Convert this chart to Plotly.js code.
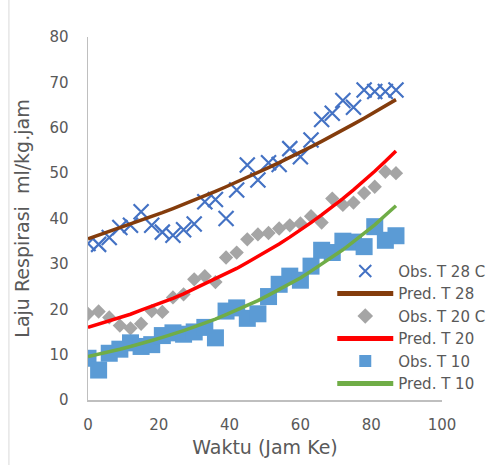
<!DOCTYPE html>
<html>
<head>
<meta charset="utf-8">
<script src="https://cdn.plot.ly/plotly-3.0.1.min.js"></script>
<style>
  html, body { margin: 0; padding: 0; background: #ffffff; }
  #chart { width: 491px; height: 465px; }
</style>
</head>
<body>
<div id="chart"></div>
<script>
// Time (hours)
const waktu = [0, 3, 6, 9, 12, 15, 18, 21, 24, 27, 30, 33, 36, 39, 42, 45, 48, 51, 54, 57, 60, 63, 66, 69, 72, 75, 78, 81, 84, 87];

// Observed / predicted respiration rate (ml/kg.jam)
const obsT28 = [34.5, 34.3, 35.8, 38.0, 38.5, 41.5, 38.5, 37.0, 36.3, 37.5, 38.8, 43.7, 44.2, 40.0, 46.3, 51.8, 48.5, 52.3, 51.9, 55.4, 53.6, 57.3, 61.8, 63.2, 66.0, 64.5, 68.3, 68.0, 68.0, 68.3];
const predT28 = [35.5, 36.3, 37.1, 37.9, 38.7, 39.5, 40.4, 41.3, 42.2, 43.1, 44.0, 45.0, 46.0, 47.0, 48.0, 49.0, 50.1, 51.2, 52.3, 53.4, 54.6, 55.8, 57.0, 58.2, 59.5, 60.8, 62.1, 63.5, 64.8, 66.2];
const obsT20 = [19.0, 19.5, 18.2, 16.4, 15.8, 16.8, 19.6, 19.4, 22.6, 23.3, 26.6, 27.3, 26.0, 31.4, 32.5, 35.4, 36.5, 36.8, 37.8, 38.5, 38.9, 40.5, 39.1, 44.4, 43.0, 43.5, 45.6, 47.0, 50.3, 50.0];
const predT20 = [16.0, 16.7, 17.4, 18.2, 18.9, 19.8, 20.6, 21.5, 22.4, 23.4, 24.5, 25.5, 26.6, 27.8, 29.0, 30.3, 31.6, 32.9, 34.4, 35.9, 37.4, 39.1, 40.8, 42.5, 44.4, 46.3, 48.3, 50.4, 52.6, 54.9];
const obsT10 = [9.2, 6.6, 10.3, 11.2, 12.6, 11.8, 12.2, 14.2, 14.8, 14.5, 15.0, 16.0, 13.7, 19.6, 20.3, 18.0, 19.0, 22.8, 25.5, 27.3, 26.4, 29.5, 33.0, 32.5, 35.0, 34.8, 33.8, 38.2, 35.2, 36.2];
const predT10 = [9.6, 10.1, 10.6, 11.2, 11.8, 12.4, 13.1, 13.8, 14.5, 15.3, 16.1, 16.9, 17.8, 18.8, 19.8, 20.8, 21.9, 23.1, 24.3, 25.6, 26.9, 28.4, 29.9, 31.4, 33.1, 34.9, 36.7, 38.6, 40.7, 42.8];

const seriesNames = ["Obs. T 28 C", "Pred. T 28", "Obs. T 20 C", "Pred. T 20", "Obs. T 10", "Pred. T 10"];
const xTicks = [0, 20, 40, 60, 80, 100];
const yTicks = [0, 10, 20, 30, 40, 50, 60, 70, 80];

const FONT = "DejaVu Sans, Lato, sans-serif";
const GREY = "#595959";

const traces = [
  { x: waktu, y: obsT28, name: seriesNames[0], mode: "markers", type: "scatter",
    marker: { symbol: "x-thin", size: 15, line: { color: "#4472C4", width: 2.2 }, color: "#4472C4" } },
  { x: waktu, y: predT28, name: seriesNames[1], mode: "lines", type: "scatter",
    line: { color: "#843C0C", width: 3.5 } },
  { x: waktu, y: obsT20, name: seriesNames[2], mode: "markers", type: "scatter",
    marker: { symbol: "diamond", size: 11, color: "#A5A5A5" } },
  { x: waktu, y: predT20, name: seriesNames[3], mode: "lines", type: "scatter",
    line: { color: "#FF0000", width: 3.5 } },
  { x: waktu, y: obsT10, name: seriesNames[4], mode: "markers", type: "scatter",
    marker: { symbol: "square", size: 17, color: "#5B9BD5" } },
  { x: waktu, y: predT10, name: seriesNames[5], mode: "lines", type: "scatter",
    line: { color: "#70AD47", width: 3.5 } }
];

const layout = {
  width: 491, height: 465,
  margin: { l: 88, r: 49, t: 37, b: 65, pad: 0, autoexpand: false },
  paper_bgcolor: "#ffffff", plot_bgcolor: "#ffffff",
  font: { family: FONT, color: GREY, size: 14 },
  showlegend: true,
  legend: {
    x: 0.69, y: 0.40, xanchor: "left", yanchor: "top",
    bgcolor: "rgba(255,255,255,0)",
    font: { family: FONT, size: 15, color: GREY },
    itemwidth: 56, itemsizing: "constant",
    tracegroupgap: 0
  },
  xaxis: {
    range: [0, 100], tickvals: xTicks, ticktext: xTicks.map(String),
    showgrid: false, zeroline: false,
    showline: true, linecolor: "#BFBFBF", linewidth: 1.5,
    ticks: "", ticklabelstandoff: 10,
    tickfont: { family: FONT, size: 15, color: GREY },
    title: { text: "Waktu (Jam Ke)", font: { family: FONT, size: 19, color: GREY }, standoff: 8 }
  },
  yaxis: {
    range: [0, 80], tickvals: yTicks, ticktext: yTicks.map(String),
    showgrid: false, zeroline: false,
    showline: true, linecolor: "#BFBFBF", linewidth: 1.5,
    ticks: "", ticklabelstandoff: 15,
    tickfont: { family: FONT, size: 15, color: GREY },
    title: { text: "Laju Respirasi \u00a0ml/kg.jam", font: { family: FONT, size: 19, color: GREY }, standoff: 15 }
  },
  shapes: [
    { type: "line", xref: "paper", yref: "paper",
      x0: -79 / 353.7, x1: -79 / 353.7, y0: -65 / 363, y1: 1 + 37 / 363,
      line: { color: "#D9D9D9", width: 1 } }
  ]
};

Plotly.newPlot("chart", traces, layout, { displayModeBar: false, staticPlot: true });
</script>
</body>
</html>
